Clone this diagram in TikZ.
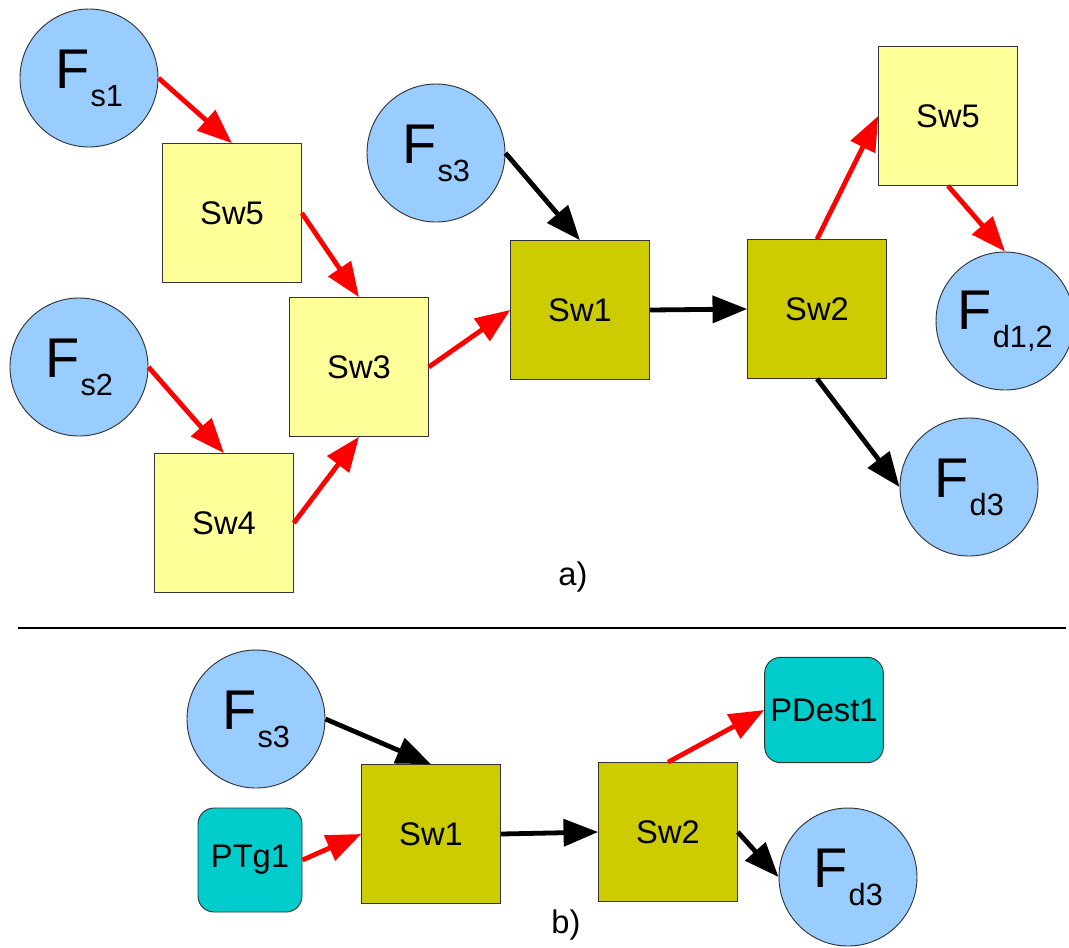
\documentclass[tikz,border=0pt]{standalone}
\usepackage{fontspec}
\setmainfont{Liberation Sans}
\usetikzlibrary{arrows.meta}
\definecolor{flowblue}{HTML}{99CCFF}
\definecolor{swlight}{HTML}{FFFF99}
\definecolor{swdark}{HTML}{CCCC00}
\definecolor{portcyan}{HTML}{00CCCC}
\definecolor{edgegray}{HTML}{333333}
\newcommand{\flowlabel}[2]{{\fontsize{42}{42}\selectfont #1}\hspace{1pt}\raisebox{-13.5pt}{\fontsize{23}{23}\selectfont #2}}
\begin{document}
\begin{tikzpicture}[x=0.75pt,y=-0.75pt,
  flow/.style={circle,draw=edgegray,line width=0.7pt,fill=flowblue,minimum size=103.5pt,inner sep=0pt},
  swl/.style={rectangle,draw=edgegray,line width=0.7pt,fill=swlight,minimum size=104pt,inner sep=0pt,font=\fontsize{24.5}{24.5}\selectfont},
  swd/.style={rectangle,draw=edgegray,line width=0.7pt,fill=swdark,minimum size=104pt,inner sep=0pt,font=\fontsize{24.5}{24.5}\selectfont},
  port/.style={rectangle,rounded corners=12pt,draw=edgegray,line width=0.7pt,fill=portcyan,inner sep=0pt,font=\fontsize{24.5}{24.5}\selectfont},
  redarrow/.style={draw=red,line width=3.6pt,-{Triangle[length=26pt,width=20pt]}},
  blkarrow/.style={draw=black,line width=3.6pt,-{Triangle[length=26pt,width=20pt]}},
  caption/.style={font=\fontsize{24.5}{24.5}\selectfont}
]
\useasboundingbox (0,0) rectangle (1069,947);
% part a
\node[flow] (fs1) at (89,78) {\flowlabel{F}{s1}};
\node[swl] (sw5a) at (232,213) {Sw5};
\node[flow] (fs2) at (79,367) {\flowlabel{F}{s2}};
\node[swl] (sw4) at (224,523) {Sw4};
\node[swl] (sw3) at (359,367) {Sw3};
\node[flow] (fs3a) at (436,153) {\flowlabel{F}{s3}};
\node[swd] (sw1a) at (580,310) {Sw1};
\node[swd] (sw2a) at (817,309) {Sw2};
\node[swl] (sw5b) at (948,116) {Sw5};
\node[flow] (fd12) at (1005,321) {\flowlabel{F}{d1,2}};
\node[flow] (fd3a) at (969,487) {\flowlabel{F}{d3}};
\node[caption] (capa) at (573,577) {a)};

\draw[redarrow] (fs1.east) -- (sw5a.north);
\draw[redarrow] (sw5a.east) -- (sw3.north);
\draw[redarrow] (fs2.east) -- (sw4.north);
\draw[redarrow] (sw4.east) -- (sw3.south);
\draw[redarrow] (sw3.east) -- (sw1a.west);
\draw[blkarrow] (fs3a.east) -- (sw1a.north);
\draw[blkarrow] (sw1a.east) -- (sw2a.west);
\draw[redarrow] (sw2a.north) -- (sw5b.west);
\draw[redarrow] (sw5b.south) -- (fd12.north);
\draw[blkarrow] (sw2a.south) -- (fd3a.west);

% separator
\coordinate (sepl) at (18,628);
\coordinate (sepr) at (1066,628);
\draw[line width=1.5pt] (sepl) -- (sepr);

% part b
\node[flow] (fs3b) at (256,719) {\flowlabel{F}{s3}};
\node[port,minimum width=78pt,minimum height=78pt] (ptg1) at (250,860) {PTg1};
\node[swd] (sw1b) at (431,834) {Sw1};
\node[swd] (sw2b) at (668,832) {Sw2};
\node[port,minimum width=89pt,minimum height=79pt] (pdest1) at (824,710) {PDest1};
\node[flow] (fd3b) at (848,877) {\flowlabel{F}{d3}};
\node[caption] (capb) at (566,925) {b)};

\draw[blkarrow] (fs3b.east) -- (sw1b.north);
\draw[redarrow] (ptg1.east) -- (sw1b.west);
\draw[blkarrow] (sw1b.east) -- (sw2b.west);
\draw[redarrow] (sw2b.north) -- (pdest1.west);
\draw[blkarrow] (sw2b.east) -- (fd3b.west);
\end{tikzpicture}
\end{document}
